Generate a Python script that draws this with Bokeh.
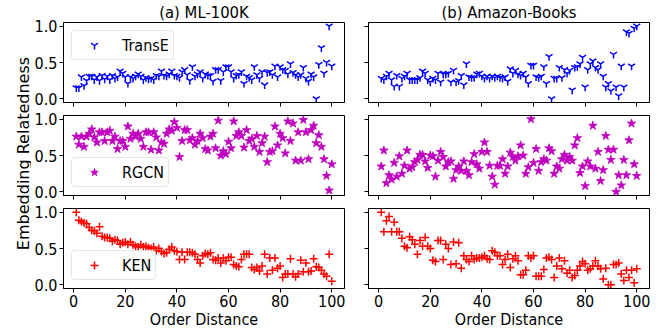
import math
from bokeh.plotting import figure
from bokeh.layouts import gridplot, row
from bokeh.models import (Range1d, FixedTicker, PrintfTickFormatter, Label,
                          Legend, LegendItem)
from bokeh.embed import file_html
from bokeh.resources import INLINE

order_distance = list(range(1, 101))
x_ticks = [0, 20, 40, 60, 80, 100]
y_ticks = [0.0, 0.5, 1.0]
titles = ["(a) ML-100K", "(b) Amazon-Books"]
series_names = ["TransE", "RGCN", "KEN"]
y_label = "Embedding Relatedness"
x_label = "Order Distance"

transe_ml = [0.15, 0.15, 0.30, 0.18, 0.25, 0.31, 0.31, 0.26, 0.30, 0.25,
             0.32, 0.27, 0.31, 0.26, 0.32, 0.28, 0.30, 0.38, 0.35, 0.30,
             0.21, 0.30, 0.28, 0.31, 0.34, 0.31, 0.26, 0.29, 0.27, 0.28,
             0.26, 0.32, 0.31, 0.38, 0.32, 0.31, 0.34, 0.38, 0.32, 0.31,
             0.29, 0.37, 0.40, 0.33, 0.25, 0.44, 0.31, 0.34, 0.37, 0.28,
             0.34, 0.32, 0.32, 0.24, 0.40, 0.40, 0.25, 0.37, 0.44, 0.44,
             0.37, 0.28, 0.32, 0.33, 0.37, 0.21, 0.31, 0.29, 0.26, 0.44,
             0.33, 0.28, 0.37, 0.19, 0.36, 0.37, 0.33, 0.45, 0.30, 0.44,
             0.40, 0.39, 0.34, 0.48, 0.36, 0.33, 0.30, 0.33, 0.43, 0.28,
             0.24, 0.34, 0.30, 0.00, 0.47, 0.70, 0.35, 0.50, 1.00, 0.45]
rgcn_ml = [0.76, 0.65, 0.76, 0.62, 0.76, 0.80, 0.86, 0.75, 0.68, 0.82,
           0.82, 0.70, 0.82, 0.84, 0.70, 0.76, 0.59, 0.70, 0.70, 0.62,
           0.90, 0.73, 0.80, 0.76, 0.80, 0.73, 0.62, 0.82, 0.82, 0.58,
           0.82, 0.75, 0.57, 0.68, 0.66, 0.80, 0.86, 0.84, 0.96, 0.88,
           0.48, 0.70, 0.85, 0.85, 0.71, 0.74, 0.65, 0.70, 0.80, 0.74,
           0.59, 0.57, 0.76, 0.80, 0.60, 0.98, 0.50, 0.56, 0.52, 0.69,
           0.60, 0.97, 0.77, 0.82, 0.77, 0.61, 0.85, 0.70, 0.73, 0.62,
           0.77, 0.55, 0.67, 0.76, 0.41, 0.55, 0.56, 0.90, 0.64, 0.80,
           0.74, 0.53, 0.97, 0.70, 0.94, 0.43, 0.82, 0.43, 0.99, 0.82,
           0.45, 0.85, 0.91, 0.67, 0.78, 0.62, 0.45, 0.22, 0.02, 0.38]
ken_ml = [1.00, 0.89, 0.87, 0.85, 0.84, 0.79, 0.75, 0.74, 0.71, 0.80,
          0.67, 0.65, 0.65, 0.64, 0.60, 0.62, 0.61, 0.56, 0.58, 0.59,
          0.56, 0.59, 0.55, 0.53, 0.52, 0.55, 0.52, 0.53, 0.51, 0.50,
          0.52, 0.47, 0.50, 0.46, 0.43, 0.44, 0.49, 0.52, 0.47, 0.46,
          0.35, 0.45, 0.35, 0.45, 0.45, 0.44, 0.42, 0.35, 0.30, 0.40,
          0.43, 0.42, 0.44, 0.35, 0.34, 0.37, 0.30, 0.37, 0.33, 0.38,
          0.38, 0.28, 0.26, 0.25, 0.35, 0.42, 0.42, 0.42, 0.24, 0.21,
          0.24, 0.19, 0.26, 0.42, 0.15, 0.37, 0.20, 0.37, 0.23, 0.26,
          0.10, 0.15, 0.15, 0.36, 0.15, 0.11, 0.15, 0.34, 0.18, 0.30,
          0.18, 0.19, 0.36, 0.25, 0.24, 0.20, 0.15, 0.12, 0.42, 0.05]
transe_ab = [0.28, 0.26, 0.31, 0.35, 0.26, 0.17, 0.32, 0.17, 0.28, 0.31,
             0.35, 0.26, 0.26, 0.26, 0.26, 0.29, 0.38, 0.35, 0.26, 0.23,
             0.28, 0.26, 0.35, 0.23, 0.34, 0.34, 0.35, 0.23, 0.39, 0.23,
             0.25, 0.32, 0.19, 0.48, 0.30, 0.29, 0.29, 0.34, 0.35, 0.31,
             0.28, 0.31, 0.28, 0.31, 0.29, 0.31, 0.29, 0.28, 0.30, 0.24,
             0.41, 0.35, 0.39, 0.34, 0.32, 0.35, 0.30, 0.21, 0.46, 0.46,
             0.30, 0.29, 0.31, 0.44, 0.21, 0.58, 0.00, 0.28, 0.28, 0.43,
             0.29, 0.40, 0.35, 0.39, 0.12, 0.43, 0.44, 0.48, 0.57, 0.16,
             0.40, 0.48, 0.52, 0.43, 0.40, 0.48, 0.31, 0.16, 0.21, 0.11,
             0.61, 0.16, 0.04, 0.45, 0.16, 0.92, 0.90, 0.45, 0.97, 1.00]
rgcn_ab = [0.35, 0.57, 0.12, 0.23, 0.17, 0.40, 0.21, 0.49, 0.25, 0.36,
           0.57, 0.32, 0.34, 0.41, 0.44, 0.51, 0.51, 0.42, 0.33, 0.50,
           0.49, 0.21, 0.43, 0.55, 0.48, 0.35, 0.41, 0.42, 0.18, 0.30,
           0.35, 0.29, 0.42, 0.29, 0.23, 0.41, 0.52, 0.38, 0.32, 0.55,
           0.68, 0.55, 0.36, 0.21, 0.10, 0.36, 0.36, 0.45, 0.25, 0.35,
           0.54, 0.48, 0.43, 0.49, 0.64, 0.50, 0.25, 0.34, 1.00, 0.40,
           0.59, 0.29, 0.41, 0.45, 0.43, 0.60, 0.56, 0.25, 0.35, 0.32,
           0.45, 0.51, 0.43, 0.48, 0.43, 0.64, 0.74, 0.26, 0.35, 0.08,
           0.42, 0.35, 0.91, 0.32, 0.55, 0.15, 0.30, 0.77, 0.58, 0.44,
           0.58, 0.00, 0.23, 0.09, 0.44, 0.23, 0.71, 0.94, 0.38, 0.22]
ken_ab = [1.00, 0.73, 0.88, 0.94, 0.73, 0.86, 0.73, 0.73, 0.64, 0.53,
          0.51, 0.66, 0.62, 0.56, 0.42, 0.61, 0.53, 0.65, 0.53, 0.50,
          0.34, 0.32, 0.61, 0.61, 0.35, 0.56, 0.50, 0.28, 0.59, 0.29,
          0.58, 0.23, 0.40, 0.35, 0.32, 0.40, 0.35, 0.37, 0.37, 0.38,
          0.40, 0.36, 0.35, 0.47, 0.45, 0.40, 0.40, 0.28, 0.35, 0.42,
          0.24, 0.36, 0.40, 0.33, 0.14, 0.14, 0.20, 0.40, 0.37, 0.40,
          0.12, 0.12, 0.12, 0.21, 0.37, 0.38, 0.35, 0.10, 0.26, 0.37,
          0.22, 0.33, 0.16, 0.20, 0.10, 0.13, 0.20, 0.26, 0.32, 0.29,
          0.20, 0.22, 0.26, 0.33, 0.26, 0.22, 0.08, 0.23, 0.00, 0.00,
          0.28, 0.28, 0.30, 0.15, 0.06, 0.20, 0.10, 0.20, 0.03, 0.22]

data = [[transe_ml, transe_ab], [rgcn_ml, rgcn_ab], [ken_ml, ken_ab]]
markers = ["y", "star", "cross"]
colors = ["#0000ff", "#bf00bf", "#ff0000"]
sizes = [8, 9, 8]

FONT = "DejaVu Sans Condensed"
FS = "16px"

FRAME_W, FRAME_H = 281, 80
top_border = [20, 7, 7]
bottom_border = [6, 6, 41]
TOTAL_H = sum(top_border) + sum(bottom_border) + 3 * FRAME_H
YLAB_W = 31

rows = []
for r in range(3):
    row_figs = []
    for c in range(2):
        p = figure(frame_width=FRAME_W, frame_height=FRAME_H,
                   x_range=Range1d(-3.95, 104.95), y_range=Range1d(-0.05, 1.05),
                   output_backend="svg", toolbar_location=None,
                   min_border_left=30 if c == 0 else 20,
                   min_border_right=4 if c == 0 else 8,
                   min_border_top=top_border[r], min_border_bottom=bottom_border[r])
        p.grid.visible = False
        p.outline_line_color = "black"
        p.outline_line_width = 1
        p.outline_line_alpha = 1
        p.background_fill_color = "white"
        p.border_fill_color = "white"
        for ax in (p.xaxis[0], p.yaxis[0]):
            ax.axis_line_color = "black"
            ax.major_tick_line_color = "black"
            ax.minor_tick_line_color = None
            ax.major_tick_in = 0
            ax.major_tick_out = 4
            ax.major_label_text_color = "black"
            ax.major_label_text_font = FONT
            ax.major_label_text_font_size = FS
        p.xaxis.ticker = FixedTicker(ticks=x_ticks)
        p.yaxis.ticker = FixedTicker(ticks=y_ticks)
        p.yaxis.formatter = PrintfTickFormatter(format="%.1f")
        p.xaxis.major_label_standoff = 2
        p.yaxis.major_label_standoff = 2
        if r < 2:
            p.xaxis.major_label_overrides = {t: "" for t in x_ticks}
            p.xaxis.major_label_text_font_size = "1px"
            p.xaxis.major_label_standoff = 0
        else:
            p.xaxis.axis_label = x_label
            p.xaxis.axis_label_text_font = FONT
            p.xaxis.axis_label_text_font_size = FS
            p.xaxis.axis_label_text_font_style = "normal"
            p.xaxis.axis_label_text_color = "black"
            p.xaxis.axis_label_standoff = 0
        if c == 1:
            p.yaxis.major_label_overrides = {t: "" for t in y_ticks}
            p.yaxis.major_label_text_font_size = "1px"
            p.yaxis.major_label_standoff = 0

        if r == 0:
            p.title.text = titles[c]
            p.title.align = "center"
            p.title.text_font = FONT
            p.title.text_font_size = "16.5px"
            p.title.text_font_style = "normal"
            p.title.text_color = "black"
            p.title.standoff = 1
            p.title.offset = 0
        else:
            p.title.visible = False

        vals = data[r][c]
        if markers[r] == "star":
            rend = p.scatter(order_distance, vals, marker="star", size=sizes[r],
                             fill_color=colors[r], line_color=colors[r], line_width=0.8)
        else:
            rend = p.scatter(order_distance, vals, marker=markers[r], size=sizes[r],
                             line_color=colors[r], line_width=1.5)

        if c == 0:
            leg = Legend(items=[LegendItem(label=series_names[r], renderers=[rend])],
                         location="top_left" if r == 0 else "bottom_left",
                         margin=8, padding=4, glyph_width=36, label_standoff=10,
                         label_text_font=FONT, label_text_font_size=FS,
                         label_text_color="black",
                         border_line_color="#cccccc", border_line_width=1,
                         border_radius=4,
                         background_fill_color="white", background_fill_alpha=0.8)
            p.add_layout(leg)
        row_figs.append(p)
    rows.append(row_figs)

grid = gridplot(rows, toolbar_location=None)

# shared y-axis label in its own narrow strip
ylab = figure(width=YLAB_W, height=TOTAL_H, x_range=Range1d(0, YLAB_W),
              y_range=Range1d(0, TOTAL_H), output_backend="svg",
              toolbar_location=None, x_axis_type=None, y_axis_type=None,
              min_border=0, min_border_left=0, min_border_right=0,
              min_border_top=0, min_border_bottom=0)
ylab.outline_line_color = None
ylab.grid.visible = False
ylab.title.visible = False
ylab.border_fill_color = "white"
ylab.background_fill_color = "white"
row2_center = TOTAL_H - (top_border[0] + FRAME_H + bottom_border[0] + top_border[1] + FRAME_H / 2)
ylab.add_layout(Label(x=22.5, y=row2_center, text=y_label, angle=math.pi / 2,
                      text_align="center", text_baseline="middle",
                      text_font="DejaVu Sans", text_font_size="16px",
                      text_color="black"))

layout = row(ylab, grid)

open("out.html", "w").write(file_html(layout, INLINE))
